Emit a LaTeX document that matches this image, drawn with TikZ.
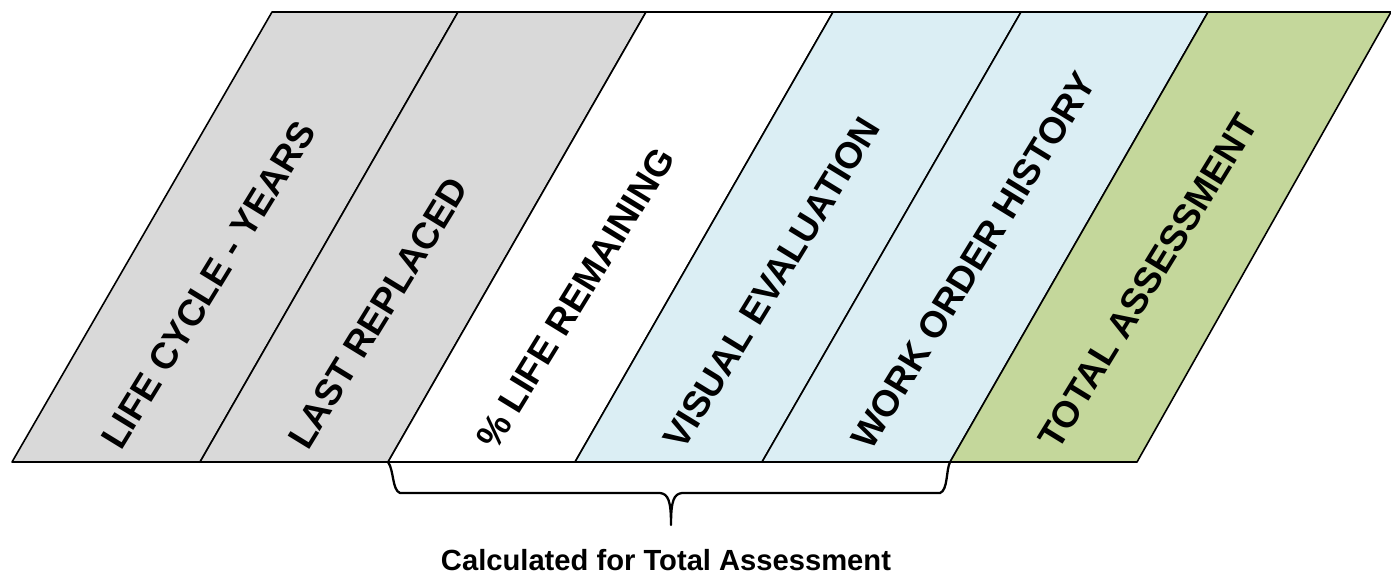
\documentclass[tikz,border=0pt]{standalone}
\usepackage{fontspec}
\setmainfont{Liberation Sans}
\usepackage{xcolor}
\usetikzlibrary{positioning}

\definecolor{colgray}{HTML}{D9D9D9}
\definecolor{colblue}{HTML}{DBEEF4}
\definecolor{colgreen}{HTML}{C4D79B}

\begin{document}
\begin{tikzpicture}[x=0.02cm,y=-0.02cm,
    colbox/.style={draw=black,line width=0.9pt,line join=round},
    collabel/.style={rotate=58.5,anchor=base west,inner sep=0pt,
      font=\fontsize{21}{25}\selectfont\bfseries},
    braceline/.style={draw=black,line width=1.3pt,line join=round,line cap=round}]
  \useasboundingbox (0,0) rectangle (1391,576);
  \def\yb{462}  % bottom edge
  \def\yt{12}   % top edge

  % slanted columns: bottom x / top x of left edge, next edge, fill
  \foreach \xa/\xb/\ta/\tb/\fc in {12/200/272/458/colgray,
      200/388/458/646/colgray, 388/575/646/833/white,
      575/762/833/1021/colblue, 762/950/1021/1208/colblue,
      950/1137/1208/1391/colgreen}{
    \filldraw[colbox,fill=\fc] (\xa,\yb) -- (\xb,\yb) -- (\tb,\yt) -- (\ta,\yt) -- cycle;
  }

  % column titles
  \node[collabel] (lifecycle) at (121,452) {LIFE CYCLE - YEARS};
  \node[collabel] (lastrepl)  at (308,452) {LAST REPLACED};
  \node[collabel] (liferem)   at (496,452) {\% LIFE REMAINING};
  \node[collabel] (visual)    at (683,452) {VISUAL EVALUATION};
  \node[collabel] (workorder) at (871,452) {WORK ORDER HISTORY};
  \node[collabel] (total)     at (1058,452) {TOTAL ASSESSMENT};

  % brace under the calculated columns
  \coordinate (bl) at (388,\yb);
  \coordinate (br) at (950,\yb);
  \coordinate (tip) at (671,525);
  \draw[braceline] (bl) .. controls (394,470) and (392,490) .. (400,493)
    -- (660,493) .. controls (668,494) and (671,500) .. (tip)
    .. controls (671,500) and (674,494) .. (682,493)
    -- (940,493) .. controls (948,490) and (946,470) .. (br);

  \node[font=\fontsize{16.6}{20}\selectfont\bfseries] (calc) at (666,560)
    {Calculated for Total Assessment};
\end{tikzpicture}
\end{document}
